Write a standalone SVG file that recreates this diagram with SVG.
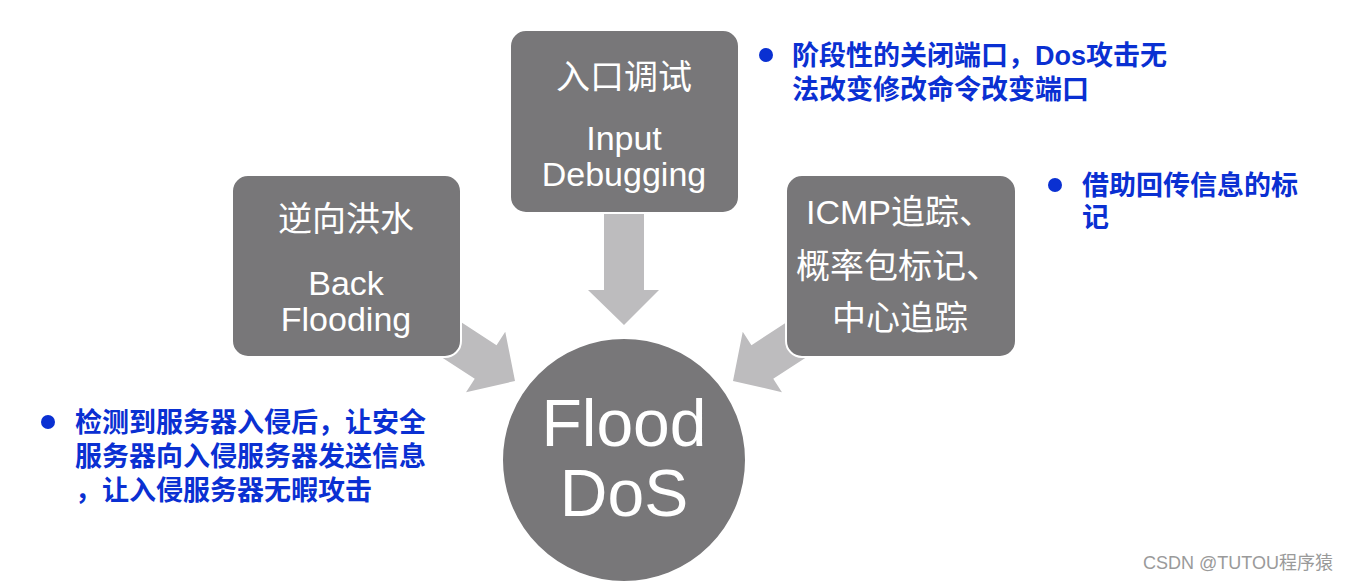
<svg xmlns="http://www.w3.org/2000/svg" width="1347" height="581" viewBox="0 0 1347 581">
<style>
.box{fill:#787779;stroke:#ffffff;stroke-width:2}
.arrow{fill:#bdbcbe}
.wt{fill:#ffffff;font-family:"Liberation Sans","Noto Sans CJK SC",sans-serif;font-size:34px}
.bt{fill:#0a30d2;font-family:"Liberation Sans","Noto Sans CJK SC",sans-serif;font-size:27px;font-weight:bold}
.dot{fill:#0a30d2}
</style>
<rect width="1347" height="581" fill="#ffffff"/>
<g id="connectors">
<polygon class="arrow" points="604,210 644,210 644,290 659,290 624,325 588,290 604,290"/>
<g transform="translate(515,381) rotate(33)"><polygon class="arrow" points="-120,-20 -35,-20 -35,-36 0,0 -35,36 -35,20 -120,20"/></g>
<g transform="translate(733,381) rotate(147)"><polygon class="arrow" points="-120,-20 -35,-20 -35,-36 0,0 -35,36 -35,20 -120,20"/></g>
</g>
<g id="node-input">
<rect class="box" x="510" y="30" width="229" height="183" rx="16"/>
<text class="wt" x="624" y="89" text-anchor="middle">入口调试</text>
<text class="wt" x="624" y="150" text-anchor="middle">Input</text>
<text class="wt" x="624" y="186" text-anchor="middle">Debugging</text>
</g>
<g id="node-back">
<rect class="box" x="232" y="175" width="229" height="182" rx="16"/>
<text class="wt" x="346" y="231" text-anchor="middle">逆向洪水</text>
<text class="wt" x="346" y="295" text-anchor="middle">Back</text>
<text class="wt" x="346" y="331" text-anchor="middle">Flooding</text>
</g>
<g id="node-icmp">
<rect class="box" x="786" y="175" width="230" height="182" rx="16"/>
<text class="wt" x="806" y="224">ICMP追踪、</text>
<text class="wt" x="796" y="278">概率包标记、</text>
<text class="wt" x="832" y="330">中心追踪</text>
</g>
<g id="node-flood">
<circle class="box" cx="624" cy="460" r="122"/>
<text class="wt" x="624" y="446" text-anchor="middle" style="font-size:66px">Flood</text>
<text class="wt" x="624" y="516" text-anchor="middle" style="font-size:66px">DoS</text>
</g>
<g id="note-input">
<circle class="dot" cx="766" cy="55" r="7"/>
<text class="bt" x="792" y="65">阶段性的关闭端口，Dos攻击无</text>
<text class="bt" x="792" y="99">法改变修改命令改变端口</text>
</g>
<g id="note-icmp">
<circle class="dot" cx="1055" cy="185" r="7"/>
<text class="bt" x="1082" y="195">借助回传信息的标</text>
<text class="bt" x="1082" y="227">记</text>
</g>
<g id="note-back">
<circle class="dot" cx="48" cy="422" r="7"/>
<text class="bt" x="75" y="432">检测到服务器入侵后，让安全</text>
<text class="bt" x="75" y="466">服务器向入侵服务器发送信息</text>
<text class="bt" x="75" y="500">，让入侵服务器无暇攻击</text>
</g>
<text x="1143" y="569" style="fill:#9a9a9a;font-family:'Liberation Sans','Noto Sans CJK SC',sans-serif;font-size:18px">CSDN @TUTOU程序猿</text>
</svg>
